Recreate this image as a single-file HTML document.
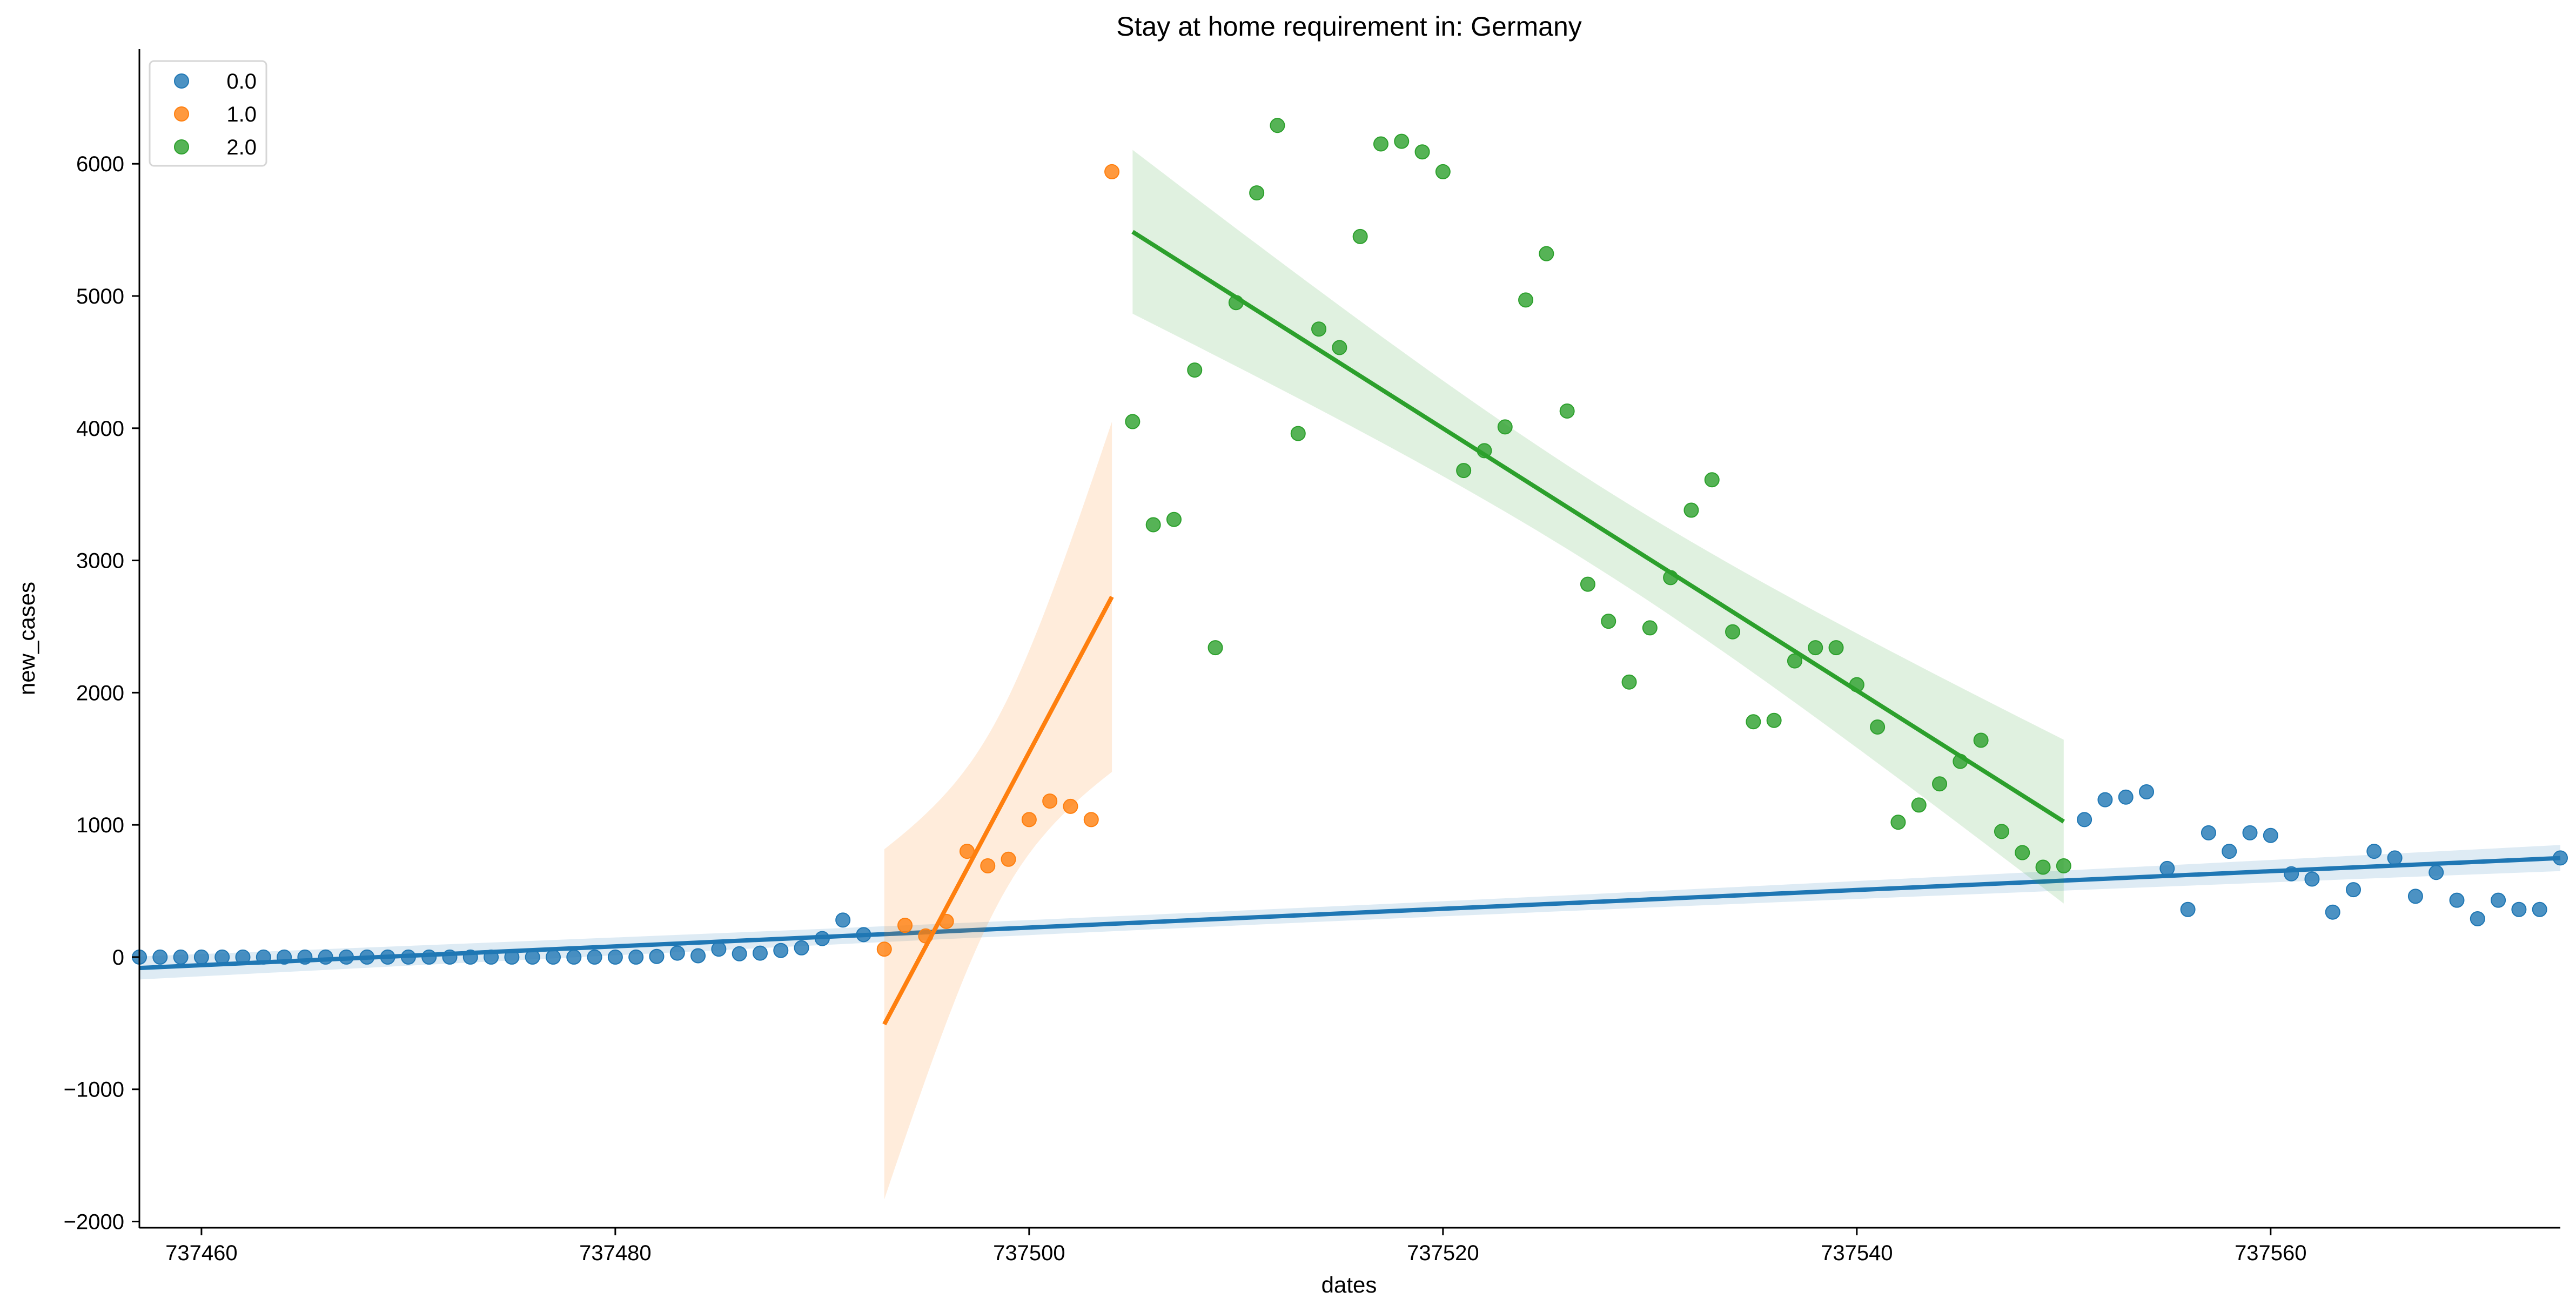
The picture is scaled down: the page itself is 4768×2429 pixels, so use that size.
<!DOCTYPE html>
<html><head><meta charset="utf-8"><style>
html,body{margin:0;padding:0;background:#fff;}
svg{display:block;font-family:"Liberation Sans","DejaVu Sans",sans-serif;}
</style></head><body>
<svg id="chart" width="4768" height="2429" viewBox="0 0 4768 2429" xmlns="http://www.w3.org/2000/svg">
<text x="2497" y="66" font-size="50" text-anchor="middle">Stay at home requirement in: Germany</text>
<text x="2497" y="2393" font-size="42" text-anchor="middle">dates</text>
<text x="0" y="0" font-size="42" text-anchor="middle" transform="translate(64,1182) rotate(-90)">new_cases</text>
<g id="plot"></g>
<g id="axes"></g>
<g>
<rect x="277" y="113" width="216" height="194" rx="8" fill="#fff" fill-opacity="0.8" stroke="#d6d6d6" stroke-width="3"/>
<circle cx="336" cy="150" r="13" fill="#1f77b4" fill-opacity="0.8" stroke="#1f77b4" stroke-width="2"/>
<text x="475" y="164" font-size="40" text-anchor="end">0.0</text>
<circle cx="336" cy="211" r="13" fill="#ff7f0e" fill-opacity="0.8" stroke="#ff7f0e" stroke-width="2"/>
<text x="475" y="225" font-size="40" text-anchor="end">1.0</text>
<circle cx="336" cy="272" r="13" fill="#2ca02c" fill-opacity="0.8" stroke="#2ca02c" stroke-width="2"/>
<text x="475" y="286" font-size="40" text-anchor="end">2.0</text>
</g>
</svg>
<script>
const blueDates = [737457,737458,737459,737460,737461,737462,737463,737464,737465,737466,737467,737468,737469,737470,737471,737472,737473,737474,737475,737476,737477,737478,737479,737480,737481,737482,737483,737484,737485,737486,737487,737488,737489,737490,737491,737492,737551,737552,737553,737554,737555,737556,737557,737558,737559,737560,737561,737562,737563,737564,737565,737566,737567,737568,737569,737570,737571,737572,737573,737574];
const blueValues = [0,0,0,0,0,0,0,0,0,0,0,0,0,0,0,0,0,0,0,0,0,0,0,0,0,5,30,10,60,25,30,50,70,140,280,170,1040,1190,1210,1250,670,360,940,800,940,920,630,590,340,510,800,750,460,640,430,290,430,360,360,750];
const orangeDates = [737493,737494,737495,737496,737497,737498,737499,737500,737501,737502,737503,737504];
const orangeValues = [60,240,160,270,800,690,740,1040,1180,1140,1040,5940];
const greenDates = [737505,737506,737507,737508,737509,737510,737511,737512,737513,737514,737515,737516,737517,737518,737519,737520,737521,737522,737523,737524,737525,737526,737527,737528,737529,737530,737531,737532,737533,737534,737535,737536,737537,737538,737539,737540,737541,737542,737543,737544,737545,737546,737547,737548,737549,737550];
const greenValues = [4050,3270,3310,4440,2340,4950,5780,6290,3960,4750,4610,5450,6150,6170,6090,5940,3680,3830,4010,4970,5320,4130,2820,2540,2080,2490,2870,3380,3610,2460,1780,1790,2240,2340,2340,2060,1740,1020,1150,1310,1480,1640,950,790,680,690];
const xTicks = [737460,737480,737500,737520,737540,737560];
const yTicks = [-2000,-1000,0,1000,2000,3000,4000,5000,6000];

const L=258,R=4739,T=91,B=2273;
const XMIN=737457,XMAX=737574,YMIN=-2047,YMAX=6867;
const xs=d=>L+(d-XMIN)/(XMAX-XMIN)*(R-L);
const ys=v=>B-(v-YMIN)/(YMAX-YMIN)*(B-T);
const NS="http://www.w3.org/2000/svg";
const plot=document.getElementById('plot');
const axes=document.getElementById('axes');
function mk(tag,attrs,parent){const e=document.createElementNS(NS,tag);for(const k in attrs)e.setAttribute(k,attrs[k]);parent.appendChild(e);return e;}

function fit(xd,yd){
  const n=xd.length;const mx=xd.reduce((a,b)=>a+b,0)/n;const my=yd.reduce((a,b)=>a+b,0)/n;
  let sxx=0,sxy=0;for(let i=0;i<n;i++){sxx+=(xd[i]-mx)**2;sxy+=(xd[i]-mx)*(yd[i]-my);}
  const b=sxy/sxx,a=my-b*mx;let sse=0;for(let i=0;i<n;i++)sse+=(yd[i]-a-b*xd[i])**2;
  const s=Math.sqrt(sse/(n-2));return {a,b,n,mx,sxx,s};
}
function series(name,xd,yd,color,x0,x1){
  const f=fit(xd,yd);const t=2.0;
  const up=[],lo=[];const N=60;
  for(let i=0;i<=N;i++){const x=x0+(x1-x0)*i/N;const yh=f.a+f.b*x;const se=f.s*Math.sqrt(1/f.n+(x-f.mx)**2/f.sxx);
    up.push(xs(x).toFixed(1)+','+ys(yh+t*se).toFixed(1));lo.unshift(xs(x).toFixed(1)+','+ys(yh-t*se).toFixed(1));}
  const band=mk('polygon',{points:up.concat(lo).join(' '),fill:color,'fill-opacity':0.15,stroke:'none'},plot);
  
  
  for(let i=0;i<xd.length;i++){
    const c=mk('circle',{cx:xs(xd[i]),cy:ys(yd[i]),r:13,fill:color,'fill-opacity':0.8,stroke:color,'stroke-width':2},plot);
    
    
  }
  const ln=mk('line',{x1:xs(x0),y1:ys(f.a+f.b*x0),x2:xs(x1),y2:ys(f.a+f.b*x1),stroke:color,'stroke-width':8},plot);
  
  
}
series('series-0',blueDates,blueValues,'#1f77b4',XMIN,XMAX);
series('series-1',orangeDates,orangeValues,'#ff7f0e',Math.min(...orangeDates),Math.max(...orangeDates));
series('series-2',greenDates,greenValues,'#2ca02c',Math.min(...greenDates),Math.max(...greenDates));

const ls=mk('line',{x1:L,y1:T,x2:L,y2:B,stroke:'#000','stroke-width':3},axes);


const bs=mk('line',{x1:L,y1:B,x2:R,y2:B,stroke:'#000','stroke-width':3},axes);


xTicks.forEach(v=>{
  const tk=mk('line',{x1:xs(v),y1:B,x2:xs(v),y2:B+14,stroke:'#000','stroke-width':3},axes);
  
  
  const tx=mk('text',{x:xs(v),y:B+60,'font-size':40,'text-anchor':'middle'},axes);tx.textContent=v;
  
  
});
yTicks.forEach(v=>{
  const tk=mk('line',{x1:L-14,y1:ys(v),x2:L,y2:ys(v),stroke:'#000','stroke-width':3},axes);
  
  
  const tx=mk('text',{x:L-28,y:ys(v)+14,'font-size':40,'text-anchor':'end'},axes);tx.textContent=v<0?'\u2212'+(-v):v;
  
  
});
</script>
</body></html>
